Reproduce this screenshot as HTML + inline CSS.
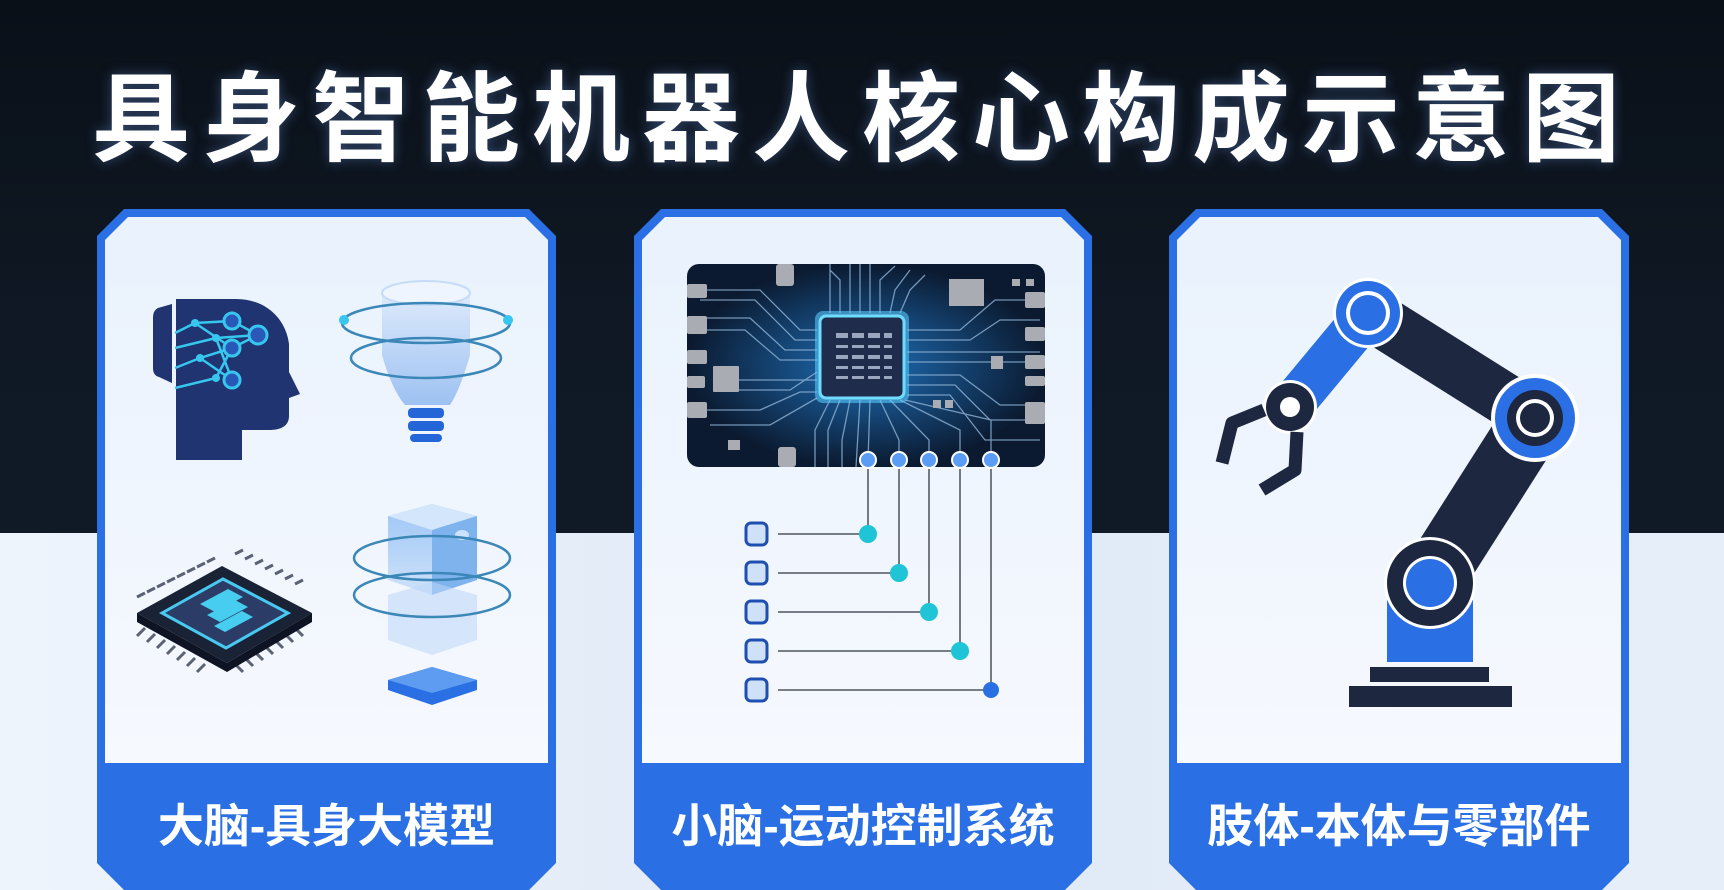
<!DOCTYPE html>
<html><head><meta charset="utf-8">
<style>
html,body{margin:0;padding:0}
body{width:1724px;height:890px;overflow:hidden;position:relative;background:#0c121b;font-family:"Liberation Sans","Noto Sans CJK SC",sans-serif}
.top{position:absolute;left:0;top:0;width:1724px;height:533px;background:linear-gradient(180deg,#0a1018 0%,#0f1824 60%,#101a27 100%)}
.bot{position:absolute;left:0;top:533px;width:1724px;height:357px;background:linear-gradient(90deg,#eef4fc 0%,#dfe9f6 50%,#e6eef9 100%)}
.title{position:absolute;left:0;width:1724px;top:56px;text-align:center;color:#fff;font-size:98px;font-weight:700;line-height:110px;letter-spacing:12px;font-family:"Noto Sans CJK SC",sans-serif;text-shadow:0 0 12px rgba(120,170,255,.35)}
.lbl{position:absolute;top:796px;color:#fff;font-size:46px;font-weight:700;line-height:60px;text-align:center;font-family:"Liberation Sans","Noto Sans CJK SC",sans-serif}
svg{position:absolute;left:0;top:0}
</style></head><body>
<div class="top"></div><div class="bot"></div>
<svg width="1724" height="890" viewBox="0 0 1724 890">
<defs>
<linearGradient id="cardbg" x1="0" y1="0" x2="0" y2="1"><stop offset="0" stop-color="#e9f2fd"/><stop offset="1" stop-color="#f6f9fe"/></linearGradient>
<radialGradient id="glow" cx="0.5" cy="0.5" r="0.5"><stop offset="0" stop-color="#1e6fb8"/><stop offset="1" stop-color="#0b1a30"/></radialGradient>
<linearGradient id="cyl" x1="0" y1="0" x2="0" y2="1"><stop offset="0" stop-color="#dbe9fb"/><stop offset="1" stop-color="#8fb8f0"/></linearGradient>
<linearGradient id="cube" x1="0" y1="0" x2="0" y2="1"><stop offset="0" stop-color="#9cc6f5"/><stop offset="1" stop-color="#cfe2fa"/></linearGradient>
</defs>
<g>
<polygon points="124,209 529,209 556,236 556,863 529,890 124,890 97,863 97,236" fill="#2a6fe3"/>
<polygon points="128,217 525,217 548,240 548,763 105,763 105,240" fill="url(#cardbg)"/>
<polygon points="661,209 1065,209 1092,236 1092,863 1065,890 661,890 634,863 634,236" fill="#2a6fe3"/>
<polygon points="665,217 1061,217 1084,240 1084,763 642,763 642,240" fill="url(#cardbg)"/>
<polygon points="1196,209 1602,209 1629,236 1629,863 1602,890 1196,890 1169,863 1169,236" fill="#2a6fe3"/>
<polygon points="1200,217 1598,217 1621,240 1621,763 1177,763 1177,240" fill="url(#cardbg)"/>
</g>

<!-- Card 1: head -->
<g>
<path d="M176,299 h60 c30,0 50,20 53,45 l0,28 l11,22 l-11,4 l0,18 c0,10 -8,14 -20,14 l-27,0 l0,30 l-66,0 z" fill="#1f3470"/>
<path d="M172,304 l-14,4 c-4,2 -5,6 -5,10 l0,50 c0,5 2,8 6,9 l13,6 z" fill="#1f3470"/>
<g transform="translate(0,38)">
<g stroke="#37c6ee" stroke-width="2.5" fill="none">
<path d="M175,295 L195,285 L232,283 M175,310 L216,300 M175,330 L200,320 L232,310 M175,350 L216,340 M195,285 L232,310 M216,300 L258,297 M216,300 L232,342 M216,340 L232,310 M200,320 L232,342 M232,310 L258,297 M232,283 L258,297"/>
</g>
<g fill="#2a58b8" stroke="#37c6ee" stroke-width="3">
<circle cx="232" cy="283" r="8"/><circle cx="258" cy="297" r="9"/><circle cx="232" cy="310" r="8"/><circle cx="232" cy="342" r="8"/>
</g>
<g fill="#37c6ee"><circle cx="195" cy="285" r="4"/><circle cx="216" cy="300" r="4"/><circle cx="200" cy="320" r="4"/><circle cx="216" cy="340" r="4"/></g>
</g>
</g>
<!-- Card 1: funnel -->
<g transform="translate(0,10)">
<path d="M382,283 L470,283 L470,345 Q460,380 450,395 L405,395 Q392,380 382,345 Z" fill="url(#cyl)" opacity=".85"/>
<ellipse cx="426" cy="283" rx="44" ry="12" fill="#eef5fe" stroke="#c6dbf7" stroke-width="2"/>
<ellipse cx="426" cy="313" rx="84" ry="20" fill="none" stroke="#3b87b8" stroke-width="2.5"/>
<ellipse cx="426" cy="348" rx="75" ry="20" fill="none" stroke="#3b87b8" stroke-width="2.5"/>
<circle cx="344" cy="310" r="5" fill="#37c6ee"/><circle cx="508" cy="310" r="5" fill="#37c6ee"/>
<rect x="408" y="398" width="36" height="10" rx="4" fill="#2466d8"/>
<rect x="408" y="411" width="36" height="10" rx="4" fill="#2466d8"/>
<rect x="410" y="424" width="32" height="8" rx="4" fill="#2466d8"/>
</g>
<!-- Card 1: chip -->
<g transform="translate(0,38)">
<g stroke="#5a6273" stroke-width="3">
<path d="M145,555 l-8,4 M155,550 l-8,4 M165,545 l-8,4 M175,540 l-8,4 M185,535 l-8,4 M195,530 l-8,4 M205,525 l-8,4 M215,520 l-8,4 M235,516 l8,-4 M245,521 l8,-4 M255,526 l8,-4 M265,531 l8,-4 M275,536 l8,-4 M285,541 l8,-4 M295,546 l8,-4"/>
<path d="M145,590 l-8,8 M155,596 l-8,8 M165,602 l-8,8 M175,608 l-8,8 M185,614 l-8,8 M195,620 l-8,8 M205,626 l-8,8 M235,626 l8,8 M245,620 l8,8 M255,614 l8,8 M265,608 l8,8 M275,602 l8,8 M285,596 l8,8 M295,590 l8,8"/>
</g>
<path d="M137,575 L222,528 L312,575 L227,625 Z" fill="#1a2236"/>
<path d="M137,575 L137,584 L227,634 L312,584 L312,575 L227,625 Z" fill="#0e1424"/>
<path d="M162,575 L223,541 L288,575 L226,610 Z" fill="#2b3d66" stroke="#49c8f0" stroke-width="3"/>
<g fill="#46cdef"><path d="M200,566 L228,551 L243,559 L215,574 Z"/><path d="M207,577 L235,562 L248,569 L220,584 Z"/><path d="M214,588 L242,573 L253,579 L225,594 Z"/></g>
</g>
<!-- Card 1: cube -->
<g transform="translate(0,50)">
<path d="M388,466 L432,454 L477,466 L477,530 L432,545 L388,530 Z" fill="url(#cube)"/>
<path d="M388,466 L432,454 L477,466 L432,480 Z" fill="#d3e6fb"/>
<path d="M432,480 L477,466 L477,530 L432,545 Z" fill="#7fb3ee"/>
<ellipse cx="462" cy="485" rx="7" ry="5" fill="#cde3fb"/>
<path d="M388,545 L432,532 L477,545 L477,590 L432,605 L388,590 Z" fill="#bcd7f7" opacity=".55"/>
<ellipse cx="432" cy="508" rx="78" ry="22" fill="none" stroke="#3b87b8" stroke-width="2.5"/>
<ellipse cx="432" cy="545" rx="78" ry="22" fill="none" stroke="#3b87b8" stroke-width="2.5"/>
<path d="M388,630 L432,617 L477,630 L477,640 L432,655 L388,640 Z" fill="#2a6fe3"/>
<path d="M388,630 L432,617 L477,630 L432,643 Z" fill="#5d9cf0"/>
</g>

<!-- Card 2: PCB -->
<g>
<rect x="687" y="264" width="358" height="203" rx="12" fill="url(#glow)"/>
<g stroke="#8fb3d6" stroke-width="1.3" fill="none" opacity=".8">
<path d="M700,290 L760,290 L800,330 L817,330 M700,300 L755,300 L795,340 L817,340 M700,318 L750,318 L785,350 L817,350 M700,330 L745,330 L780,360 L817,360 M720,380 L817,380 M720,390 L790,390 L817,372 M700,410 L760,410 L800,392 L817,392 M710,425 L770,425 L817,398"/>
<path d="M907,330 L960,330 L995,300 L1040,300 M907,340 L970,340 L1000,320 L1040,320 M907,352 L1040,352 M907,362 L1040,362 M907,375 L960,375 L1000,405 L1040,405 M907,385 L955,385 L990,420 L1040,420 M907,395 L950,395 L985,440 L1040,440"/>
<path d="M830,313 L830,264 M840,313 L840,280 L830,270 M850,313 L850,264 M860,313 L860,264 M870,313 L870,264 M880,313 L880,280 L895,266 M890,313 L895,290 L910,270 M900,313 L910,290 L925,275"/>
<path d="M830,400 L815,430 L815,467 M840,400 L828,430 L828,467 M850,400 L842,440 L842,467 M860,400 L856,467 M870,400 L868,460 M880,400 L899,440 L899,455 M890,400 L929,440 L929,455 M900,400 L960,430 L960,455 M905,400 L991,420 L991,455"/>
</g>
<g fill="#a9adb3">
<rect x="687" y="284" width="20" height="14" rx="2"/><rect x="687" y="316" width="20" height="18" rx="2"/><rect x="687" y="350" width="20" height="14" rx="2"/><rect x="687" y="376" width="18" height="12" rx="2"/><rect x="687" y="402" width="20" height="16" rx="2"/>
<rect x="713" y="366" width="26" height="26" rx="1"/><rect x="728" y="440" width="12" height="10"/>
<rect x="776" y="264" width="18" height="22" rx="3"/><rect x="778" y="447" width="18" height="20" rx="3"/>
<rect x="949" y="279" width="35" height="27"/><rect x="1025" y="292" width="20" height="16" rx="2"/><rect x="1025" y="327" width="20" height="14" rx="2"/><rect x="1025" y="355" width="20" height="14" rx="2"/><rect x="1025" y="376" width="20" height="10" rx="2"/><rect x="1025" y="402" width="20" height="22" rx="2"/>
<rect x="991" y="356" width="12" height="13"/><rect x="933" y="400" width="8" height="8"/><rect x="945" y="400" width="8" height="8"/><rect x="1012" y="279" width="8" height="7"/><rect x="1026" y="279" width="8" height="7"/>
</g>
<rect x="815" y="311" width="94" height="92" rx="8" fill="#5fd0ff" opacity=".55"/>
<rect x="820" y="316" width="84" height="82" rx="6" fill="#202c4c" stroke="#6fdcff" stroke-width="3"/>
<g fill="#9aa6bf">
<rect x="836" y="333" width="12" height="5"/><rect x="852" y="333" width="12" height="5"/><rect x="868" y="333" width="12" height="5"/><rect x="884" y="333" width="8" height="5"/>
<rect x="836" y="345" width="12" height="3"/><rect x="852" y="345" width="12" height="3"/><rect x="868" y="345" width="12" height="3"/><rect x="884" y="345" width="8" height="3"/>
<rect x="836" y="355" width="12" height="4"/><rect x="852" y="355" width="12" height="4"/><rect x="868" y="355" width="12" height="4"/><rect x="884" y="355" width="8" height="4"/>
<rect x="836" y="366" width="12" height="3"/><rect x="852" y="366" width="12" height="3"/><rect x="868" y="366" width="12" height="3"/><rect x="884" y="366" width="8" height="3"/>
<rect x="836" y="376" width="12" height="3"/><rect x="852" y="376" width="12" height="3"/><rect x="868" y="376" width="12" height="3"/><rect x="884" y="376" width="8" height="3"/>
</g>
</g>
<g stroke="#666c75" stroke-width="1.8" fill="none">
<path d="M868,460 L868,534 M899,460 L899,573 M929,460 L929,612 M960,460 L960,651 M991,460 L991,690"/>
<path d="M778,534 L868,534 M778,573 L899,573 M778,612 L929,612 M778,651 L960,651 M778,690 L991,690"/>
</g>
<g fill="#5b9df5" stroke="#ffffff" stroke-width="2">
<circle cx="868" cy="460" r="8"/><circle cx="899" cy="460" r="8"/><circle cx="929" cy="460" r="8"/><circle cx="960" cy="460" r="8"/><circle cx="991" cy="460" r="8"/>
</g>
<g fill="#1fc4d6"><circle cx="868" cy="534" r="9"/><circle cx="899" cy="573" r="9"/><circle cx="929" cy="612" r="9"/><circle cx="960" cy="651" r="9"/></g>
<circle cx="991" cy="690" r="8" fill="#2a6fe3"/>
<g fill="#cfe1f8" stroke="#1e4fb0" stroke-width="3">
<rect x="746" y="523" width="21" height="22" rx="5"/><rect x="746" y="562" width="21" height="22" rx="5"/><rect x="746" y="601" width="21" height="22" rx="5"/><rect x="746" y="640" width="21" height="22" rx="5"/><rect x="746" y="679" width="21" height="22" rx="5"/>
</g>

<!-- Card 3: robot arm -->
<g>
<rect x="1349" y="686" width="163" height="21" fill="#1e2740"/>
<rect x="1370" y="667" width="119" height="15" fill="#1e2740"/>
<rect x="1387" y="600" width="86" height="62" fill="#2a6fe3"/>
<line x1="1430" y1="583" x2="1535" y2="418" stroke="#1e2740" stroke-width="64"/>
<line x1="1368" y1="313" x2="1535" y2="418" stroke="#1e2740" stroke-width="52"/>
<line x1="1368" y1="313" x2="1290" y2="407" stroke="#2a6fe3" stroke-width="44"/>
<circle cx="1430" cy="583" r="46" fill="#fff"/>
<circle cx="1430" cy="583" r="43" fill="#1e2740"/>
<circle cx="1430" cy="583" r="27" fill="#fff"/>
<circle cx="1430" cy="583" r="24" fill="#2a6fe3"/>
<circle cx="1535" cy="418" r="44" fill="#fff"/>
<circle cx="1535" cy="418" r="40" fill="#2a6fe3"/>
<circle cx="1535" cy="418" r="28" fill="#1e2740"/>
<circle cx="1535" cy="418" r="19" fill="#fff"/>
<circle cx="1535" cy="418" r="15" fill="#1e2740"/>
<circle cx="1368" cy="313" r="35" fill="#fff"/>
<circle cx="1368" cy="313" r="32" fill="#2a6fe3"/>
<circle cx="1368" cy="313" r="22" fill="#fff"/>
<circle cx="1368" cy="313" r="18" fill="#2a6fe3"/>
<circle cx="1290" cy="407" r="27" fill="#fff"/>
<circle cx="1290" cy="407" r="24" fill="#1e2740"/>
<circle cx="1290" cy="407" r="10" fill="#fff"/>
<g stroke="#1e2740" stroke-width="13" fill="none" stroke-linejoin="round">
<path d="M1264,410 L1232,423 L1222,463"/>
<path d="M1297,432 L1295,470 L1262,490"/>
</g>
</g>
</svg>
<div class="title">具身智能机器人核心构成示意图</div>
<div class="lbl" style="left:97px;width:459px">大脑-具身大模型</div>
<div class="lbl" style="left:634px;width:458px">小脑-运动控制系统</div>
<div class="lbl" style="left:1169px;width:460px">肢体-本体与零部件</div>
</body></html>
